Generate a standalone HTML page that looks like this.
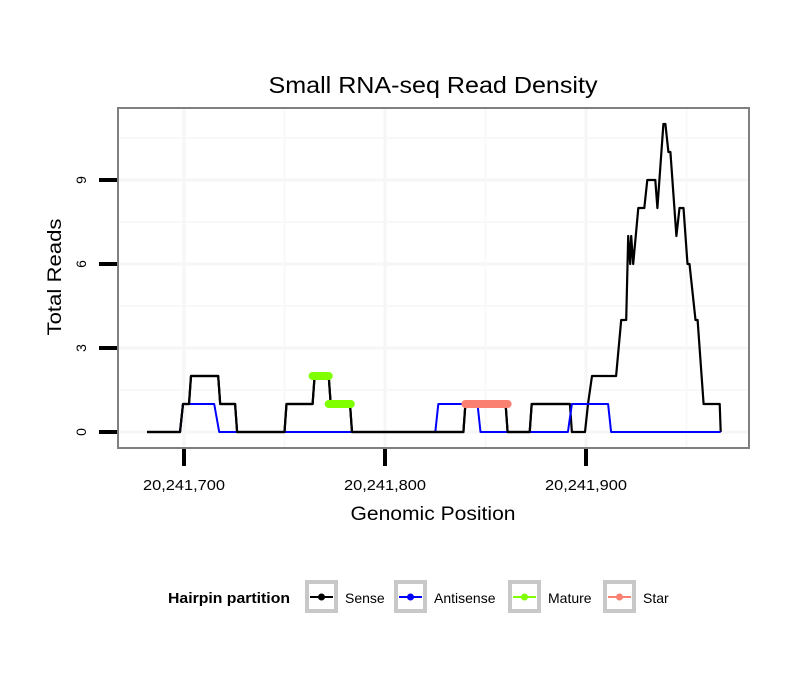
<!DOCTYPE html>
<html><head><meta charset="utf-8"><style>
body{margin:0;background:#fff;}
svg{display:block;font-family:"Liberation Sans",sans-serif;}
</style></head><body>
<svg id="chart" width="810" height="690">
<rect x="0" y="0" width="810" height="690" fill="#fff"/>
<text x="433" y="93" text-anchor="middle" font-size="23" textLength="329" lengthAdjust="spacingAndGlyphs">Small RNA-seq Read Density</text>
<g id="grid"></g>
<g id="series"></g>
<rect x="118" y="108" width="631" height="340" fill="none" stroke="#808080" stroke-width="2"/>
<g id="axes"></g>
<text x="433" y="520" text-anchor="middle" font-size="19" textLength="165" lengthAdjust="spacingAndGlyphs">Genomic Position</text>
<text transform="translate(61,277) rotate(-90)" text-anchor="middle" font-size="19" textLength="117" lengthAdjust="spacingAndGlyphs">Total Reads</text>
<g>
<text x="168" y="603" font-size="15" font-weight="bold" textLength="122" lengthAdjust="spacingAndGlyphs">Hairpin partition</text>
<g id="legend"></g>
</g>
</svg>
<script>
const xTicks=[20241700,20241800,20241900];
const xTickLabels=["20,241,700","20,241,800","20,241,900"];
const yTicks=[0,3,6,9];
const base=20241700;
const senseX=[-18.4,-2,-0.5,2.5,3.5,17,18,25.4,26.4,50,51,64,65,72,73,82.6,83.6,139,140,160,161,172,173,192,193,199.5,201,203,215,217.5,220,221,222,222.5,223.5,226,229,230.5,234.5,235.5,238.5,239.5,241,242,244,245,246.5,248.5,250.5,251.5,254.5,255.5,258.5,266.5,267];
const senseY=[0,0,1,1,2,2,1,1,0,0,1,1,2,2,1,1,0,0,1,1,0,0,1,1,0,0,1,2,2,4,4,7,6,7,6,8,8,9,9,8,11,11,10,10,8,7,8,8,6,6,4,4,1,1,0];
const antiX=[-18.4,-2,-0.5,15,17.5,125,126.5,146,147.5,191,193,211,212.5,267];
const antiY=[0,0,1,1,0,0,1,1,0,0,1,1,0,0];
const matureX=[64,72,72,83];
const matureY=[2,2,1,1];
const starX=[140,161];
const starY=[1,1];
const NS="http://www.w3.org/2000/svg";
const xs=v=>184+(v-base)*2.01;
const ys=v=>432-v*28;
function mk(t,a,p){const e=document.createElementNS(NS,t);for(const k in a)e.setAttribute(k,a[k]);p.appendChild(e);return e;}
const grid=document.getElementById('grid');
mk('rect',{x:118,y:108,width:631,height:340,fill:'#fff'},grid);
for(const v of [1.5,4.5,7.5,10.5]){const l=mk('line',{x1:118,x2:749,y1:ys(v),y2:ys(v),stroke:'#f8f8f8','stroke-width':2},grid);

}
for(const v of yTicks){const l=mk('line',{x1:118,x2:749,y1:ys(v),y2:ys(v),stroke:'#f6f6f6','stroke-width':3},grid);

}
for(const v of [20241750,20241850,20241950]){const l=mk('line',{x1:xs(v),x2:xs(v),y1:108,y2:448,stroke:'#f8f8f8','stroke-width':2},grid);

}
for(const v of xTicks){const l=mk('line',{x1:xs(v),x2:xs(v),y1:108,y2:448,stroke:'#f6f6f6','stroke-width':3},grid);

}
const ser=document.getElementById('series');
function poly(X,Y,c,w,name,cap){const pts=X.map((x,i)=>xs(base+x).toFixed(1)+','+ys(Y[i]).toFixed(1)).join(' ');
const p=mk('polyline',{points:pts,fill:'none',stroke:c,'stroke-width':w,'stroke-linecap':cap,'stroke-linejoin':'round'},ser);

}
poly(senseX,senseY,'#000',2.2,'sense-line','butt');
poly(antiX,antiY,'#0000ff',2,'antisense-line','butt');
poly(senseX.slice(0,24),senseY.slice(0,24),'#000',2.2,'sense-line-overlay','butt');
poly(matureX.slice(0,2),matureY.slice(0,2),'#7fff00',8,'mature-segment-1','round');
poly(matureX.slice(2),matureY.slice(2),'#7fff00',8,'mature-segment-2','round');
poly(starX,starY,'#fa8072',8,'star-segment','round');
const ax=document.getElementById('axes');
yTicks.forEach(v=>{const l=mk('line',{x1:99,x2:117,y1:ys(v),y2:ys(v),stroke:'#000','stroke-width':4},ax);


const t=mk('text',{transform:`translate(86,${ys(v)}) rotate(-90)`,'text-anchor':'middle','font-size':14},ax);t.textContent=v;

});
xTicks.forEach((v,i)=>{const l=mk('line',{x1:xs(v),x2:xs(v),y1:449,y2:466,stroke:'#000','stroke-width':4},ax);


const t=mk('text',{x:xs(v),y:490,'text-anchor':'middle','font-size':15,textLength:82,lengthAdjust:'spacingAndGlyphs'},ax);t.textContent=xTickLabels[i];

});
const legNames=["Sense","Antisense","Mature","Star"];
const legColors=["#000","#0000ff","#7fff00","#fa8072"];
const legBox=[305,394,508,603];
const lg=document.getElementById('legend');
legNames.forEach((n,i)=>{const g=mk('g',{},lg);


const x=legBox[i];
mk('rect',{x:x+2,y:582,width:29,height:29,fill:'#fff',stroke:'#c8c8c8','stroke-width':4},g);
mk('line',{x1:x+5,x2:x+28,y1:597,y2:597,stroke:legColors[i],'stroke-width':2},g);
mk('circle',{cx:x+16.5,cy:597,r:3.5,fill:legColors[i]},g);
const t=mk('text',{x:x+40,y:603,'font-size':14},g);t.textContent=n;});
</script>
</body></html>
